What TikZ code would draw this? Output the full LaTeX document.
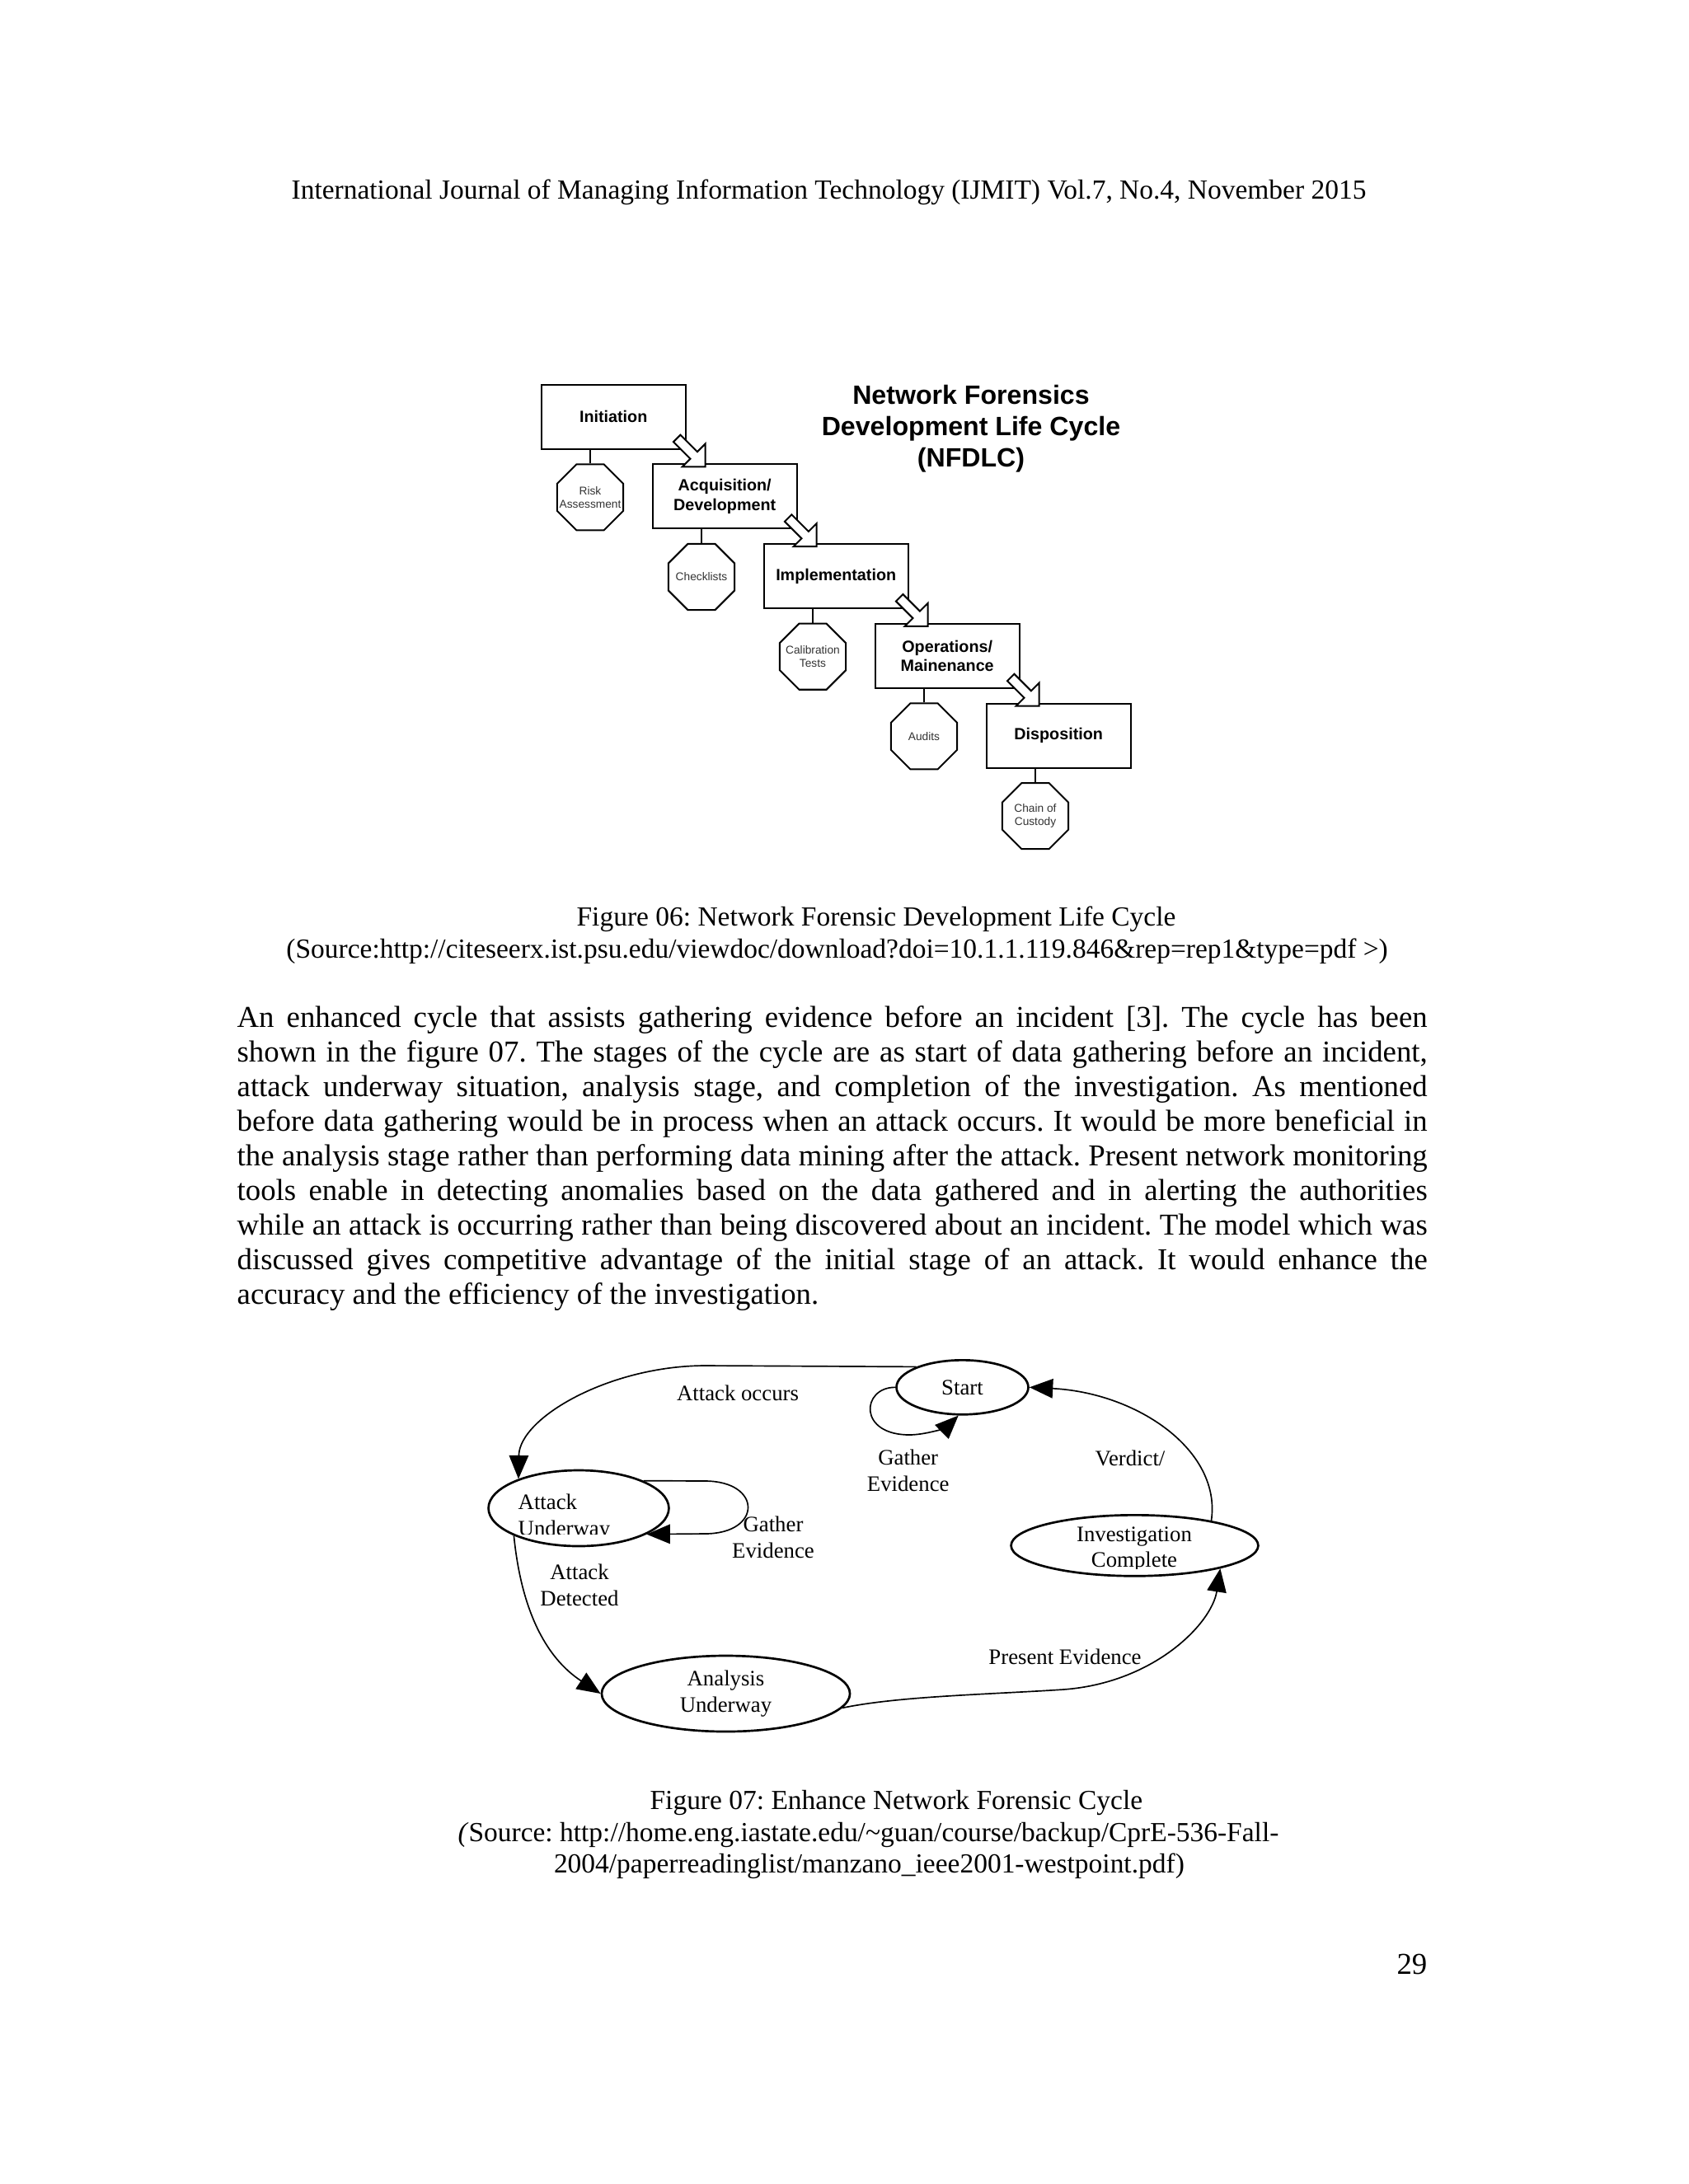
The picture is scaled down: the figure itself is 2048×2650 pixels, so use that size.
\documentclass[tikz,border=0pt]{standalone}
\usepackage{fontspec}
\setmainfont{Liberation Serif}
\newfontfamily\arialfont{Liberation Sans}
\usetikzlibrary{positioning, arrows.meta, shapes.geometric, calc}
\frenchspacing

\tikzset{
  blockarrow/.pic={
    \draw[line width=0.6bp, fill=white, line join=miter]
      (0,0) -- (-19.8,19.8) -- (-19.8,6) -- (-48.8,6) -- (-48.8,-6)
      -- (-19.8,-6) -- (-19.8,-19.8) -- cycle;
  }
}

\begin{document}
\begin{tikzpicture}[x=0.29883bp, y=0.29883bp,
    stage/.style={draw, line width=0.6bp, minimum width=52.3bp, minimum height=23.3bp,
                  inner sep=0pt, align=center,
                  font=\arialfont\bfseries\fontsize{5.9bp}{6.9bp}\selectfont},
    check/.style={draw, regular polygon, regular polygon sides=8, minimum size=25.9bp,
                  inner sep=0pt, line width=0.6bp},
    checktxt/.style={inner sep=0pt, align=center, text=black!80,
                  font=\arialfont\fontsize{4.1bp}{4.8bp}\selectfont},
    link/.style={line width=0.6bp},
    phase/.style={draw, ellipse, line width=0.8bp, inner sep=0pt, align=center},
    trans/.style={line width=0.5bp, -{Triangle[length=8.5bp, width=7bp]}},
    lbl/.style={align=center, inner sep=0pt, font=\fontsize{8bp}{9.5bp}\selectfont},
    txt/.style={inner sep=0pt, font=\fontsize{11bp}{12.6bp}\selectfont},
    capt/.style={inner sep=0pt, font=\fontsize{10bp}{11.6bp}\selectfont}]

  \fill[white] (0,0) rectangle (2048,-2650);
  \useasboundingbox (0,0) rectangle (2048,-2650);

  % page header
  \node[capt, anchor=base west] (head) at (353,-241)
    {International Journal of Managing Information Technology (IJMIT) Vol.7, No.4, November 2015};

  % ---- Figure 06 ----
  \node[stage] (init) at (744.2,-505.7) {Initiation};
  \node[stage] (acq)  at ($(init)+(135,-96.7)$) {Acquisition/\\Development};
  \node[stage] (impl) at ($(acq)+(135,-96.7)$)  {Implementation};
  \node[stage] (ops)  at ($(impl)+(135,-96.7)$) {Operations/\\Mainenance};
  \node[stage] (disp) at ($(ops)+(135,-96.7)$)  {Disposition};

  \node[check] (risk)  at ($(init)+(-28.2,-97.6)$) {};
  \node[check] (chk)   at ($(acq)+(-28.2,-97.6)$)  {};
  \node[check] (calib) at ($(impl)+(-28.2,-97.6)$) {};
  \node[check] (audit) at ($(ops)+(-28.2,-97.6)$)  {};
  \node[check] (chain) at ($(disp)+(-28.2,-97.6)$) {};
  \foreach \c/\t in {risk/{Risk\\Assessment}, chk/Checklists, calib/{Calibration\\Tests},
                     audit/Audits, chain/{Chain of\\Custody}}
    \node[checktxt] (\c txt) at (\c) {\t};

  \foreach \s/\c in {init/risk, acq/chk, impl/calib, ops/audit, disp/chain}
    \draw[link] (\c.north) -- (\c.north |- \s.south);
  \foreach \n in {acq, impl, ops, disp}
    \pic[rotate=-45] at ($(\n.north west)+(65,-4)$) {blockarrow};

  \node[font=\arialfont\bfseries\fontsize{9.6bp}{11.4bp}\selectfont, align=center, inner sep=0pt]
    (title) at (1178,-520) {Network Forensics\\Development Life Cycle\\(NFDLC)};

  \node[capt, anchor=base] (cap1a) at (1063,-1123.6) {Figure 06: Network Forensic Development Life Cycle};
  \node[capt, anchor=base] (cap1b) at (1015.6,-1162.4)
    {(Source:http://citeseerx.ist.psu.edu/viewdoc/download?doi=10.1.1.119.846\&rep=rep1\&type=pdf >)};

  % body text
  \foreach \ln [count=\i] in {
      {An enhanced cycle that assists gathering evidence before an incident [3]. The cycle has been},
      {shown in the figure 07. The stages of the cycle are as start of data gathering before an incident,},
      {attack underway situation, analysis stage, and completion of the investigation. As mentioned},
      {before data gathering would be in process when an attack occurs. It would be more beneficial in},
      {the analysis stage rather than performing data mining after the attack. Present network monitoring},
      {tools enable in detecting anomalies based on the data gathered and in alerting the authorities},
      {while an attack is occurring rather than being discovered about an incident. The model which was},
      {discussed gives competitive advantage of the initial stage of an attack. It would enhance the}}
    \node[txt, anchor=base west] (line\i) at (287,{-1246-42.1*(\i-1)}) {\makebox[431.5bp][s]{\ln}};
  \node[txt, anchor=base west] (line9) at (287,{-1246-42.1*8})
    {accuracy and the efficiency of the investigation.};

  % ---- Figure 07 ----
  \node[phase, lbl, minimum width=47.8bp, minimum height=19.7bp] (start) at (1167.5,-1683.3) {Start};
  \node[phase, minimum width=65.4bp, minimum height=27.5bp] (attack) at (702,-1830) {};
  \node[phase, minimum width=89.6bp, minimum height=22.1bp] (invest) at (1376.5,-1875.3) {};
  \node[phase, lbl, minimum width=90bp, minimum height=27.5bp] (analysis) at (880.5,-2055) {Analysis\\Underway};

  \begin{scope}
    \clip (590,-1790) rectangle (815,-1861);
    \node[lbl, anchor=west, align=left] (attacktxt) at (628,-1841) {Attack\\Underway};
  \end{scope}
  \begin{scope}
    \clip (1230,-1840) rectangle (1525,-1903);
    \node[lbl] (investtxt) at (1376,-1880) {Investigation\\Complete};
  \end{scope}

  \draw[trans] (start.156) -- (856,-1657) .. controls (740,-1657) and (630,-1720) .. (attack.154);
  \draw[trans] (start.west) .. controls (1045,-1683) and (1040,-1742) .. (1105,-1741)
    .. controls (1130,-1740) and (1150,-1730) .. (start.-98);
  \draw[trans] (attack.23) -- (855,-1797) .. controls (925,-1797) and (925,-1861) .. (855,-1861)
    -- (attack.-21);
  \draw[trans] (attack.203) .. controls (632,-1950) and (660,-2010) .. (analysis.west);
  \draw[trans] (analysis.-7) .. controls (1090,-2058) and (1200,-2056) .. (1290,-2050)
    .. controls (1400,-2042) and (1470,-1970) .. (invest.-15);
  \draw[trans] (invest.18) .. controls (1482,-1760) and (1380,-1690) .. (start.east);

  \node[lbl] (occurs)   at (895,-1690)    {Attack occurs};
  \node[lbl] (gather1)  at (1101.7,-1784.5) {Gather\\Evidence};
  \node[lbl] (gather2)  at (938,-1865)    {Gather\\Evidence};
  \node[lbl] (detected) at (703,-1923)    {Attack\\Detected};
  \node[lbl] (present)  at (1292,-2010)   {Present Evidence};
  \node[lbl] (verdict)  at (1371,-1769)   {Verdict/};

  \node[capt, anchor=base] (cap2a) at (1087.4,-2195) {Figure 07: Enhance Network Forensic Cycle};
  \node[capt, anchor=base] (cap2b) at (1053.5,-2234)
    {\textit{(}Source: http://home.eng.iastate.edu/\textasciitilde guan/course/backup/CprE-536-Fall-};
  \node[capt, anchor=base] (cap2c) at (1054.4,-2272.6)
    {2004/paperreadinglist/manzano\_ieee2001-westpoint.pdf)};

  \node[txt, anchor=base east] (pagenum) at (1732,-2395) {29};
\end{tikzpicture}
\end{document}
